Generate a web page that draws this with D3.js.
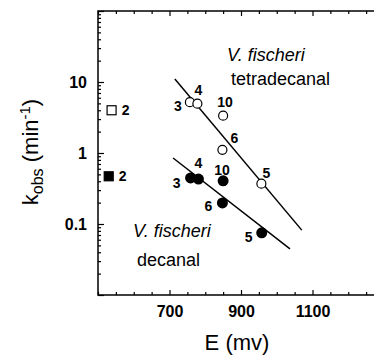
<!DOCTYPE html>
<html>
<head>
<meta charset="utf-8">
<script src="https://cdn.jsdelivr.net/npm/d3@7"></script>
<style>
  body { margin: 0; background: #fff; }
  svg { display: block; font-family: "Liberation Sans", Arial, Helvetica, sans-serif; }
</style>
</head>
<body>
<svg id="chart" width="374" height="357"></svg>
<script>
// E (mV) and k_obs (min^-1)
const tetraLabels = ['3', '4', '10', '6', '5'];
const tetraE = [757, 778, 850, 848, 957];
const tetraK = [5.2, 4.95, 3.35, 1.11, 0.37];

const decLabels = ['3', '4', '10', '6', '5'];
const decE = [759, 781, 850, 848, 958];
const decK = [0.445, 0.43, 0.405, 0.198, 0.075];

const squareLabels = ['2', '2'];
const squareE = [538, 530];
const squareK = [4.0, 0.47];
const squareFilled = [false, true];

// fitted lines (end points)
const tetraLineE = [715, 1070];
const tetraLineK = [11.0, 0.082];
const decLineE = [710, 1037];
const decLineK = [0.85, 0.0445];

const xTickLabels = [700, 900, 1100];
const yTickLabels = [0.1, 1, 10];

const svg = d3.select('#chart');

const plot = { left: 98, top: 11, bottom: 295, right: 384 };

const xScale = d3.scaleLinear()
    .domain([500, 1300])
    .range([plot.left, plot.right]);

const yScale = d3.scaleLog()
    .domain([0.01, 100])
    .range([plot.bottom, plot.top]);

const g = svg.append('g');

// frame
g.append('path')
    .attr('d', `M${plot.right},${plot.top}H${plot.left}V${plot.bottom}H${plot.right}`)
    .attr('fill', 'none')
    .attr('stroke', 'black')
    .attr('stroke-width', 1.5);

// x ticks (inward, bottom and top)
const xMinor = d3.range(500, 1301, 50).filter(v => !xTickLabels.includes(v));

const xAxisG = g.append('g')
    .attr('transform', `translate(0, ${plot.bottom})`)
    .call(d3.axisBottom(xScale)
        .tickValues(xTickLabels)
        .tickSize(-5)
        .tickPadding(11)
        .tickFormat(d3.format('d')));
xAxisG.select('.domain').remove();
xAxisG.selectAll('text')
    .attr('font-size', 16)
    .attr('font-weight', 'bold')
    .attr('font-family', null);

g.append('g')
    .attr('transform', `translate(0, ${plot.bottom})`)
    .call(d3.axisBottom(xScale).tickValues(xMinor).tickSize(-3).tickFormat(''))
    .select('.domain').remove();

g.append('g')
    .attr('transform', `translate(0, ${plot.top})`)
    .call(d3.axisTop(xScale).tickValues(xTickLabels).tickSize(-5).tickFormat(''))
    .select('.domain').remove();

g.append('g')
    .attr('transform', `translate(0, ${plot.top})`)
    .call(d3.axisTop(xScale).tickValues(xMinor).tickSize(-3).tickFormat(''))
    .select('.domain').remove();

// y ticks (log, inward)
const yMajor = [0.01, 0.1, 1, 10, 100];
const yMinor = [];
[0.01, 0.1, 1, 10].forEach(d => {
    for (let i = 2; i <= 9; i++) yMinor.push(d * i);
});

const yAxisG = g.append('g')
    .attr('transform', `translate(${plot.left}, 0)`)
    .call(d3.axisLeft(yScale)
        .tickValues(yMajor)
        .tickSize(-6)
        .tickPadding(11)
        .tickFormat(d => yTickLabels.includes(d) ? String(d) : ''));
yAxisG.select('.domain').remove();
yAxisG.selectAll('text')
    .attr('font-size', 16)
    .attr('font-weight', 'bold')
    .attr('font-family', null);

g.append('g')
    .attr('transform', `translate(${plot.left}, 0)`)
    .call(d3.axisLeft(yScale).tickValues(yMinor).tickSize(-3).tickFormat(''))
    .select('.domain').remove();

g.selectAll('.tick line').attr('stroke-width', 1.2);

// fitted lines
const line = d3.line()
    .x(d => xScale(d[0]))
    .y(d => yScale(d[1]));

g.append('path')
    .datum(d3.zip(tetraLineE, tetraLineK))
    .attr('d', line)
    .attr('fill', 'none')
    .attr('stroke', 'black')
    .attr('stroke-width', 1.5);

g.append('path')
    .datum(d3.zip(decLineE, decLineK))
    .attr('d', line)
    .attr('fill', 'none')
    .attr('stroke', 'black')
    .attr('stroke-width', 1.5);

// points
const tetra = d3.zip(tetraE, tetraK, tetraLabels);
const dec = d3.zip(decE, decK, decLabels);

g.selectAll('circle.open').data(tetra)
    .enter().append('circle')
    .attr('class', 'open')
    .attr('cx', d => xScale(d[0]))
    .attr('cy', d => yScale(d[1]))
    .attr('r', 4.5)
    .attr('fill', 'white')
    .attr('stroke', 'black')
    .attr('stroke-width', 1.2);

g.selectAll('circle.filled').data(dec)
    .enter().append('circle')
    .attr('class', 'filled')
    .attr('cx', d => xScale(d[0]))
    .attr('cy', d => yScale(d[1]))
    .attr('r', 5.5)
    .attr('fill', 'black');

// label offsets from each point centre
const tetraOff = [[-12, 4], [1, -14], [2, -14], [12, -12], [5, -11]];
const decOff = [[-14, 5], [0, -16], [-1, -11], [-14, 3], [-13, 4]];

const pointLabel = (data, off) => {
    g.append('g').selectAll('text').data(data)
        .enter().append('text')
        .attr('x', (d, i) => xScale(d[0]) + off[i][0])
        .attr('y', (d, i) => yScale(d[1]) + off[i][1])
        .attr('dy', '0.36em')
        .attr('text-anchor', 'middle')
        .attr('font-size', 14)
        .attr('font-weight', 'bold')
        .text(d => d[2]);
};
pointLabel(tetra, tetraOff);
pointLabel(dec, decOff);

// squares
const squares = d3.zip(squareE, squareK, squareLabels, squareFilled);
const sq = 9;

g.selectAll('rect.sq').data(squares)
    .enter().append('rect')
    .attr('class', 'sq')
    .attr('x', d => xScale(d[0]) - sq / 2)
    .attr('y', d => yScale(d[1]) - sq / 2)
    .attr('width', sq)
    .attr('height', sq)
    .attr('fill', d => d[3] ? 'black' : 'white')
    .attr('stroke', 'black')
    .attr('stroke-width', 1.2);

g.append('g').selectAll('text').data(squares)
    .enter().append('text')
    .attr('x', d => xScale(d[0]) + 14)
    .attr('y', d => yScale(d[1]))
    .attr('dy', '0.36em')
    .attr('text-anchor', 'middle')
    .attr('font-size', 14)
    .attr('font-weight', 'bold')
    .text(d => d[2]);

// annotations
const note = (x, y, txt, italic) => {
    g.append('text')
        .attr('x', x)
        .attr('y', y)
        .attr('font-size', 18)
        .attr('font-style', italic ? 'italic' : 'normal')
        .text(txt);
};
note(227, 61, 'V. fischeri', true);
note(231, 85, 'tetradecanal', false);
note(133, 237, 'V. fischeri', true);
note(137, 266, 'decanal', false);

// axis titles
svg.append('text')
    .attr('x', 237)
    .attr('y', 350)
    .attr('text-anchor', 'middle')
    .attr('font-size', 22)
    .text('E (mv)');

const yTitle = svg.append('text')
    .attr('transform', 'translate(38, 152) rotate(-90)')
    .attr('text-anchor', 'middle')
    .attr('font-size', 22);
yTitle.append('tspan').text('k');
yTitle.append('tspan').attr('font-size', 16).attr('dy', 5).text('obs');
yTitle.append('tspan').attr('dy', -5).text(' (min');
yTitle.append('tspan').attr('font-size', 15).attr('dy', -8).text('-1');
yTitle.append('tspan').attr('dy', 8).text(')');
</script>
</body>
</html>
